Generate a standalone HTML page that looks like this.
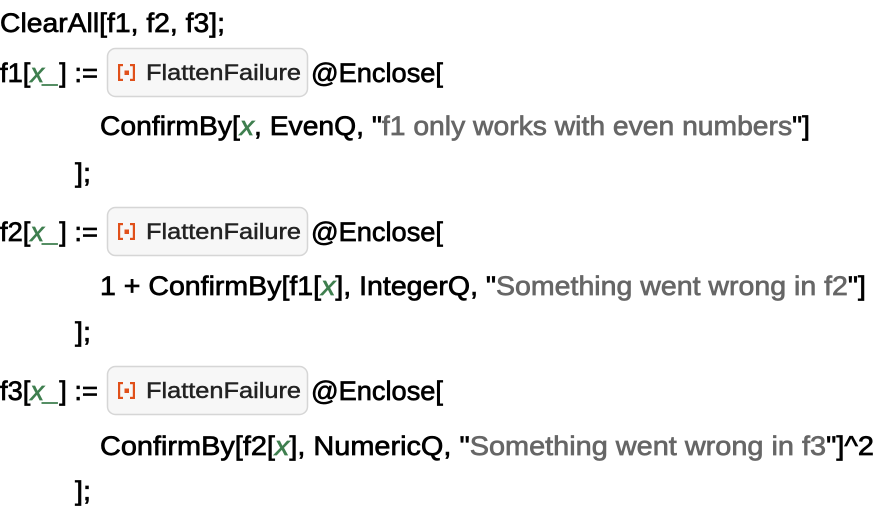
<!DOCTYPE html>
<html><head><meta charset="utf-8"><style>
html,body{margin:0;padding:0;background:#fff;width:876px;height:518px;overflow:hidden}
svg{display:block}
text{font-family:"Liberation Sans",sans-serif;font-size:27px;fill:#000;stroke:#000;stroke-width:0.7px}
.g{fill:#3f7f4f;stroke:#3f7f4f;font-style:italic}
.s{fill:#666;stroke:#666}
.b{font-size:22px;fill:#222;stroke:#222;stroke-width:0.45px}
</style></head><body>
<svg width="876" height="518" viewBox="0 0 876 518">
<defs>
<g id="btn">
<rect x="107.5" y="48.5" width="200" height="48" rx="8" fill="#f7f7f7" stroke="#d6d6d6" stroke-width="1.5"/>
<rect x="118" y="64" width="2.2" height="17" fill="#e0501a"/><rect x="118" y="64" width="5" height="2.2" fill="#e0501a"/><rect x="118" y="78.8" width="5" height="2.2" fill="#e0501a"/>
<rect x="132.8" y="64" width="2.2" height="17" fill="#e0501a"/><rect x="130" y="64" width="5" height="2.2" fill="#e0501a"/><rect x="130" y="78.8" width="5" height="2.2" fill="#e0501a"/>
<rect x="124.5" y="70.5" width="4.5" height="4.5" fill="#e0501a"/>
</g>
</defs>
<text x="0" y="32" textLength="225" lengthAdjust="spacingAndGlyphs">ClearAll[f1, f2, f3];</text>

<text x="0" y="82" textLength="98" lengthAdjust="spacingAndGlyphs">f1[<tspan class="g">x_</tspan>] :=</text>
<use href="#btn"/>
<text class="b" x="146" y="80" textLength="155" lengthAdjust="spacingAndGlyphs">FlattenFailure</text>
<text x="311" y="82" textLength="132" lengthAdjust="spacingAndGlyphs">@Enclose[</text>
<text x="100" y="135" textLength="710" lengthAdjust="spacingAndGlyphs">ConfirmBy[<tspan class="g">x</tspan>, EvenQ, "<tspan class="s">f1 only works with even numbers</tspan>"]</text>
<text x="75" y="182" textLength="16" lengthAdjust="spacingAndGlyphs">];</text>

<g transform="translate(0,159)">
<text x="0" y="82" textLength="98" lengthAdjust="spacingAndGlyphs">f2[<tspan class="g">x_</tspan>] :=</text>
<use href="#btn"/>
<text class="b" x="146" y="80" textLength="155" lengthAdjust="spacingAndGlyphs">FlattenFailure</text>
<text x="311" y="82" textLength="132" lengthAdjust="spacingAndGlyphs">@Enclose[</text>
</g>
<text x="100" y="295" textLength="766" lengthAdjust="spacingAndGlyphs">1 + ConfirmBy[f1[<tspan class="g">x</tspan>], IntegerQ, "<tspan class="s">Something went wrong in f2</tspan>"]</text>
<text x="75" y="341" textLength="16" lengthAdjust="spacingAndGlyphs">];</text>

<g transform="translate(0,318)">
<text x="0" y="82" textLength="98" lengthAdjust="spacingAndGlyphs">f3[<tspan class="g">x_</tspan>] :=</text>
<use href="#btn"/>
<text class="b" x="146" y="80" textLength="155" lengthAdjust="spacingAndGlyphs">FlattenFailure</text>
<text x="311" y="82" textLength="132" lengthAdjust="spacingAndGlyphs">@Enclose[</text>
</g>
<text x="100" y="455" textLength="774" lengthAdjust="spacingAndGlyphs">ConfirmBy[f2[<tspan class="g">x</tspan>], NumericQ, "<tspan class="s">Something went wrong in f3</tspan>"]^2</text>
<text x="75" y="500" textLength="16" lengthAdjust="spacingAndGlyphs">];</text>
</svg>
</body></html>
